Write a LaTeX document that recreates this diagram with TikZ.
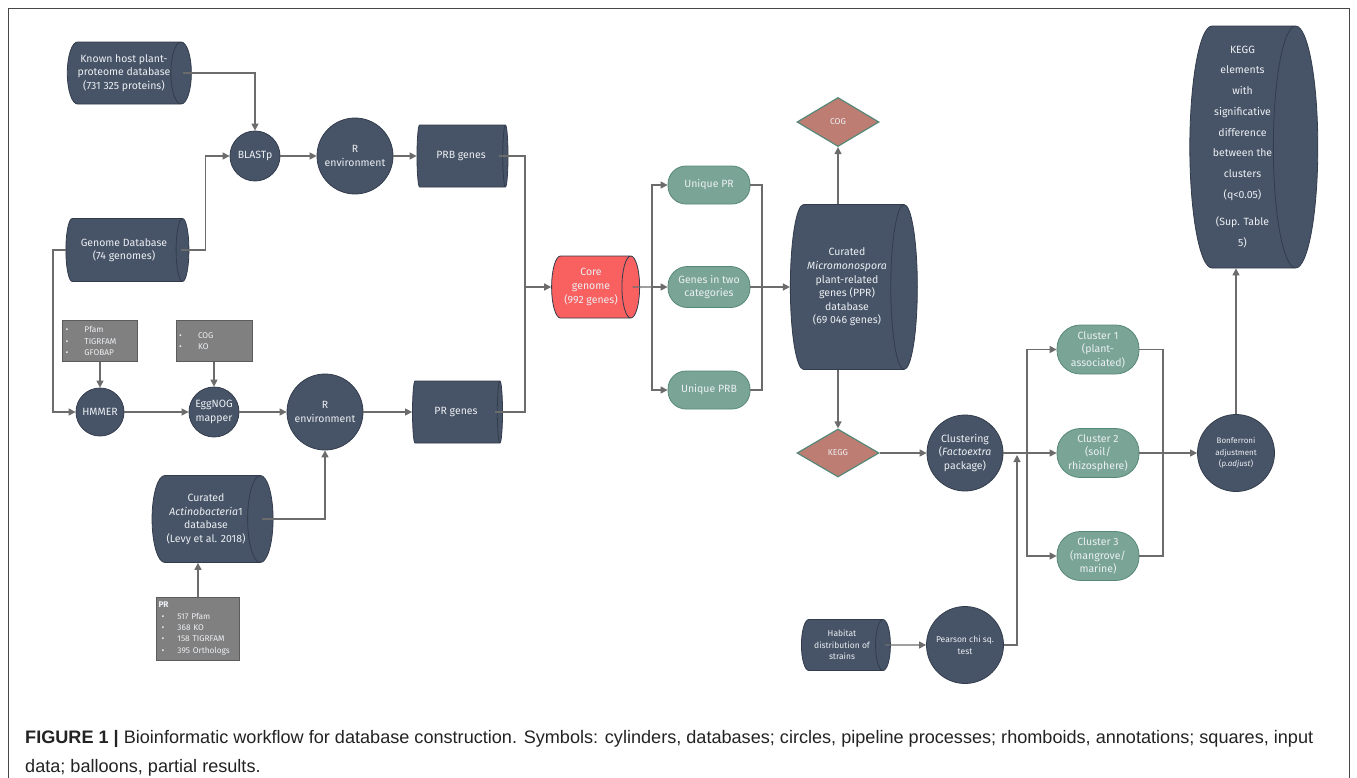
\documentclass[tikz,border=0pt]{standalone}
\usepackage{fontspec}
\setmainfont{Liberation Sans}
\newfontfamily\nf{Fira Sans}
\usetikzlibrary{shapes.geometric,arrows.meta,calc}
\definecolor{slate}{RGB}{71,84,103}
\definecolor{slateb}{RGB}{50,60,76}
\definecolor{tealf}{RGB}{122,165,150}
\definecolor{tealb}{RGB}{86,136,120}
\definecolor{rosef}{RGB}{190,125,115}
\definecolor{boxf}{RGB}{128,128,128}
\definecolor{boxb}{RGB}{92,92,92}
\definecolor{linec}{RGB}{108,108,108}
\definecolor{coref}{RGB}{249,96,96}
\definecolor{txt}{RGB}{236,239,243}
\definecolor{framec}{RGB}{70,70,70}
\definecolor{capc}{RGB}{35,35,35}
\tikzset{
  basetxt/.style={text=txt, align=center, inner sep=0pt, font=\nf\fontsize{10.5}{13.6}\selectfont},
  db/.style={basetxt, cylinder, draw=slateb, fill=slate, line width=0.8pt, shape aspect=#1},
  proc/.style={basetxt, circle, draw=slateb, fill=slate, line width=0.8pt, minimum size=#1},
  bal/.style={basetxt, rectangle, rounded corners=#1, draw=tealb, fill=tealf, line width=0.8pt, minimum width=82pt},
  ann/.style={basetxt, diamond, draw=tealb, fill=rosef, line width=1.2pt, minimum width=82pt, font=\nf\fontsize{8.5}{10}\selectfont},
  inbox/.style={rectangle, draw=boxb, fill=boxf, line width=0.8pt, text=txt, align=left, inner xsep=3pt, inner ysep=0pt, font=\nf\fontsize{8.3}{11.3}\selectfont},
  arr/.style={draw=linec, line width=1.3pt, -{Triangle[length=7pt,width=7pt]}},
  ln/.style={draw=linec, line width=1.3pt},
}
\newcommand{\bul}[1]{\makebox[19pt][l]{\textbullet}#1}
\begin{document}
\begin{tikzpicture}[x=1pt,y=-1pt]
\useasboundingbox (0,0) rectangle (1357,777);
\fill[white] (0,0) rectangle (1357,777);
\draw[framec, line width=0.8pt] (8,778) -- (8,8) -- (1349,8) -- (1349,778);

% left column
\node[db=0.55, minimum height=122pt, minimum width=62pt] (kh) at (124,73) {Known host plant-\\proteome database\\(731 325 proteins)};
\node[db=0.54, minimum height=123pt, minimum width=63pt] (gdb) at (124,250) {Genome Database\\(74 genomes)};
\node[proc=50pt] (bl) at (255,156) {BLASTp};
\node[proc=76pt] (r1) at (355,156) {R\\environment};
\node[db=0.55, minimum height=91pt, minimum width=62pt] (prb) at (461,156) {PRB genes};

\node[inbox, minimum width=75pt, minimum height=41pt, text width=69pt] (pfam) at (100,341) {\bul{Pfam}\\\bul{TIGRFAM}\\\bul{GFOBAP}};
\node[inbox, minimum width=76pt, minimum height=41pt, text width=70pt] (cogb) at (214,341) {\bul{COG}\\\bul{KO}};
\node[proc=48pt] (hm) at (100,412) {HMMER};
\node[proc=50pt] (egg) at (214,412) {EggNOG\\mapper};
\node[proc=76pt] (r2) at (325,412) {R\\environment};
\node[db=0.55, minimum height=90pt, minimum width=62pt] (pr) at (456,412) {PR genes};

\node[db=0.5, minimum height=121pt, minimum width=87pt] (act) at (206,519) {Curated\\\textit{Actinobacteria}1\\database\\(Levy et al. 2018)};
\node[inbox, minimum width=83pt, minimum height=63pt, text width=79pt, inner xsep=2pt] (prbox) at (198,628.5) {\textbf{PR}\\\hspace{3pt}\makebox[16pt][l]{\textbullet}517 Pfam\\\hspace{3pt}\makebox[16pt][l]{\textbullet}368 KO\\\hspace{3pt}\makebox[16pt][l]{\textbullet}158 TIGRFAM\\\hspace{3pt}\makebox[16pt][l]{\textbullet}395 Orthologs};

% middle
\node[db=0.48, fill=coref, minimum height=88pt, minimum width=62pt] (core) at (591,287) {Core\\genome\\(992 genes)};
\node[bal=18pt, minimum height=38pt] (upr) at (709,185) {Unique PR};
\node[bal=19.5pt, minimum height=41pt] (two) at (709,287) {Genes in two\\categories};
\node[bal=18pt, minimum height=38pt] (uprb) at (709,390) {Unique PRB};
\node[db=0.34, minimum height=127pt, minimum width=165pt] (micro) at (847,287) {Curated\\\textit{Micromonospora}\\plant-related\\genes (PPR)\\database\\(69 046 genes)};
\node[ann, minimum height=49pt] (cogd) at (838,122) {COG};
\node[ann, minimum height=48pt] (keggd) at (838,453) {KEGG};

% right
\node[proc=76pt] (clus) at (965,453) {Clustering\\(\textit{Factoextra}\\package)};
\node[db=0.5, minimum height=89pt, minimum width=51pt, font=\nf\fontsize{8.5}{11.5}\selectfont] (hab) at (842,645) {Habitat\\distribution of\\strains};
\node[proc=77pt, font=\nf\fontsize{8.5}{11.5}\selectfont] (pear) at (965,645) {Pearson chi sq.\\test};
\node[bal=23.5pt, minimum height=49pt] (c1) at (1098,349.5) {Cluster 1\\(plant-\\associated)};
\node[bal=23.5pt, minimum height=49pt] (c2) at (1098,453) {Cluster 2\\(soil/\\rhizosphere)};
\node[bal=23.5pt, minimum height=49pt] (c3) at (1098,556) {Cluster 3\\(mangrove/\\marine)};
\node[proc=77pt, font=\nf\fontsize{8}{11.5}\selectfont] (bonf) at (1236,453) {Bonferroni\\adjustment\\(\textit{p.adjust})};
\node[db=0.22, minimum height=128pt, minimum width=242pt, font=\nf\fontsize{10.5}{20.7}\selectfont] (ke) at (1242.5,147) {KEGG\\elements\\with\\significative\\difference\\between the\\clusters\\(q<0.05)\\[7pt](Sup. Table\\5)};

% junction coordinates
\coordinate (jc) at (525,287);
\coordinate (jb) at (652,287);
\coordinate (jr) at (762,287);
\coordinate (jk) at (1027,453);
\coordinate (jp) at (1017,455);
\coordinate (jq) at (1163,453);

% connectors
\draw[arr] ([xshift=-8.5pt]kh.east) -| (bl.north);
\draw[arr] ([xshift=-8.5pt]gdb.east) -- ++(25,0) |- (bl.west);
\draw[arr] (bl.east) -- (r1.west);
\draw[arr] (r1.east) -- (prb.west);
\draw[ln] ([xshift=-9pt]prb.east) -| (jc);
\draw[ln] ([xshift=-8pt]pr.east) -| (jc);
\draw[arr] (jc) -- (core.west);
\draw[arr] (gdb.west) -- ++(-12.5,0) |- (hm.west);
\draw[arr] (pfam.south) -- (hm.north);
\draw[arr] (cogb.south) -- (egg.north);
\draw[arr] (hm.east) -- (egg.west);
\draw[arr] (egg.east) -- (r2.west);
\draw[arr] (r2.east) -- (pr.west);
\draw[arr] ([xshift=-11pt]act.east) -| (r2.south);
\draw[arr] (prbox.north) -- (prbox.north |- act.south);

\draw[ln] ([xshift=-7.5pt]core.east) -- (jb);
\draw[arr] (jb) |- (upr.west);
\draw[arr] (jb) -- (two.west);
\draw[arr] (jb) |- (uprb.west);
\draw[ln] (upr.east) -| (jr);
\draw[ln] (uprb.east) -| (jr);
\draw[arr] (two.east) -- (micro.west);
\draw[arr] (cogd.south |- micro.north) -- (cogd.south);
\draw[arr] (keggd.north |- micro.south) -- (keggd.north);
\draw[arr] (keggd.east) -- (clus.west);

\draw[ln] (clus.east) -- (jk);
\draw[arr] (jk) |- (c1.west);
\draw[arr] (jk) -- (c2.west);
\draw[arr] (jk) |- (c3.west);
\draw[arr] ([xshift=-6pt]hab.east) -- (pear.west);
\draw[arr] (pear.east) -| (jp);
\draw[ln] (c1.east) -| (jq);
\draw[ln] (c3.east) -| (jq);
\draw[arr] (c2.east) -- (bonf.west);
\draw[arr] (bonf.north) -- (bonf.north |- ke.south);

% caption
\node[anchor=base west, inner sep=0pt, text=capc, font=\fontsize{18.1}{20}\selectfont] (cap1) at (25,743) {\textbf{FIGURE 1 |} Bioinformatic workflow for database construction. Symbols: cylinders, databases; circles, pipeline processes; rhomboids, annotations; squares, input};
\node[anchor=base west, inner sep=0pt, text=capc, font=\fontsize{18.1}{20}\selectfont] (cap2) at (25,772) {data; balloons, partial results.};
\end{tikzpicture}
\end{document}
